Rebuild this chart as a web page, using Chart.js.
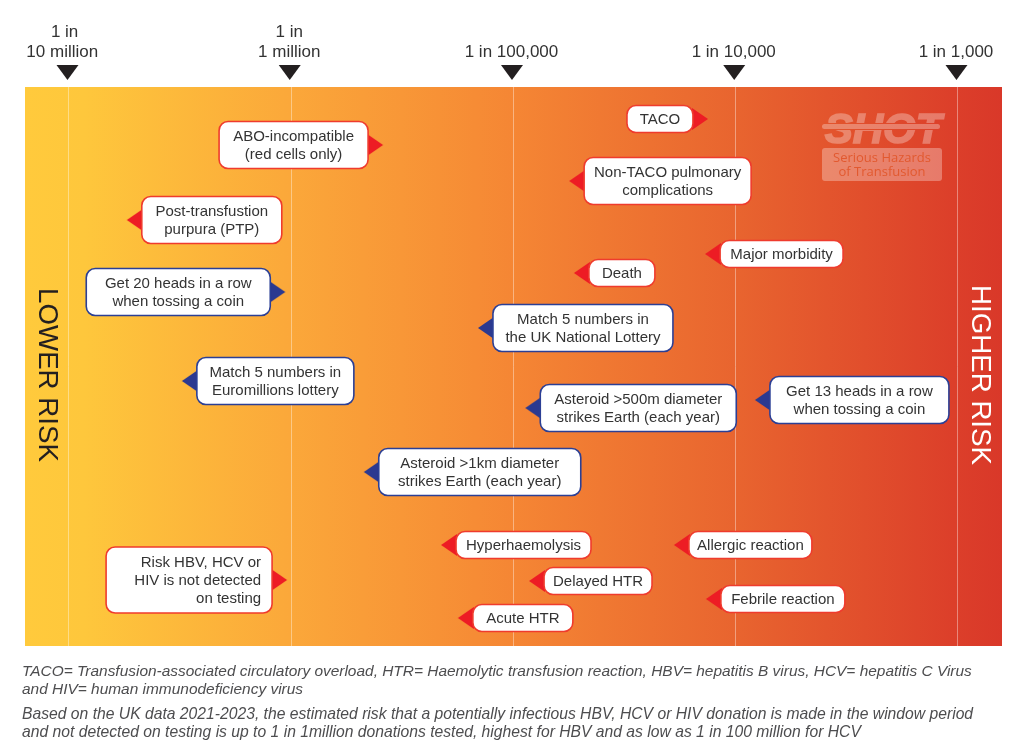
<!DOCTYPE html>
<html>
<head>
<meta charset="utf-8">
<title>Risk of transfusion reactions</title>
<script src="https://cdn.jsdelivr.net/npm/chart.js@4/dist/chart.umd.js"></script>
<style>
    html, body { margin: 0; padding: 0; background: #fff; }
    #wrap { position: relative; width: 1024px; height: 756px; overflow: hidden; }
    .note { position: absolute; left: 22px; white-space: nowrap; font: italic 15.45px "Liberation Sans", sans-serif; color: #4d4d4f; }
    .note.wide { font-size: 15.7px; }
</style>
</head>
<body>
<div id="wrap">
    <canvas id="riskChart" width="1024" height="756"></canvas>
    <div class="note" style="top:662px">TACO= Transfusion-associated circulatory overload, HTR= Haemolytic transfusion reaction, HBV= hepatitis B virus, HCV= hepatitis C Virus</div>
    <div class="note" style="top:680px">and HIV= human immunodeficiency virus</div>
    <div class="note wide" style="top:705px">Based on the UK data 2021-2023, the estimated risk that a potentially infectious HBV, HCV or HIV donation is made in the window period</div>
    <div class="note wide" style="top:723px">and not detected on testing is up to 1 in 1million donations tested, highest for HBV and as low as 1 in 100 million for HCV</div>
</div>
<script>
// --- DATA ---
const tickValues = [1e-7, 1e-6, 1e-5, 1e-4, 1e-3];
// trailing spaces nudge the first label left of its tick, as in the original
const tickLabels = [['1 in ', '10 million  '], ['1 in', '1 million'], '1 in 100,000', '1 in 10,000', '1 in 1,000'];

const eventLabels = [
    ['TACO'],
    ['ABO-incompatible', '(red cells only)'],
    ['Non-TACO pulmonary', 'complications'],
    ['Post-transfustion', 'purpura (PTP)'],
    ['Major morbidity'],
    ['Death'],
    ['Get 20 heads in a row', 'when tossing a coin'],
    ['Match 5 numbers in', 'the UK National Lottery'],
    ['Match 5 numbers in', 'Euromillions lottery'],
    ['Get 13 heads in a row', 'when tossing a coin'],
    ['Asteroid >500m diameter', 'strikes Earth (each year)'],
    ['Asteroid >1km diameter', 'strikes Earth (each year)'],
    ['Hyperhaemolysis'],
    ['Allergic reaction'],
    ['Risk HBV, HCV or', 'HIV is not detected', 'on testing'],
    ['Delayed HTR'],
    ['Febrile reaction'],
    ['Acute HTR']
];
// risk per event
const eventRisk = [7.5e-5, 2.59e-6, 1.78e-5, 1.82e-7, 7.28e-5, 1.87e-5, 9.4e-7, 6.92e-6, 3.22e-7,
    1.22e-4, 1.13e-5, 2.12e-6, 4.72e-6, 5.27e-5, 9.58e-7, 1.175e-5, 7.34e-5, 5.62e-6];
// vertical placement only, the picture has no y axis
const eventRow = [32, 58, 94, 133, 167, 186, 205, 241, 294, 313, 321, 385, 458, 458, 493, 494, 512, 531];
const eventGroup = ['blood', 'blood', 'blood', 'blood', 'blood', 'blood', 'chance', 'chance', 'chance',
    'chance', 'chance', 'chance', 'blood', 'blood', 'blood', 'blood', 'blood', 'blood'];

// --- BOX STYLING ---
const boxWidths = [66, 149, 167, 140, 123, 66, 184, 180, 157, 179, 196, 202, 135, 123, 166, 108, 124, 100];
const boxOnLeft = [true, true, false, false, false, false, true, false, false, false, false, false, false, false, true, false, false, false];
const groupFill = { blood: '#ed1c24', chance: '#2b3990' };
const groupStroke = { blood: '#ef3b2d', chance: '#2b3f95' };
const arrowLength = 15;
const lineHeight = 18;
const textFont = '15px "Liberation Sans", sans-serif';

// a marker image whose centre is the arrow tip, so the point lands on the risk value
function makeArrow(color, tipLeft) {
    const c = document.createElement('canvas');
    c.width = 32; c.height = 24;
    const g = c.getContext('2d');
    const base = tipLeft ? 16 + arrowLength + 1 : 16 - arrowLength - 1;
    g.fillStyle = color;
    g.beginPath(); g.moveTo(16, 12); g.lineTo(base, 1); g.lineTo(base, 23); g.closePath(); g.fill();
    return c;
}
const arrows = {
    blood: { left: makeArrow(groupFill.blood, true), right: makeArrow(groupFill.blood, false) },
    chance: { left: makeArrow(groupFill.chance, true), right: makeArrow(groupFill.chance, false) }
};

// logo is built on its own canvas so the stroke and fill do not double up the alpha
function drawLogo(ctx) {
    const c = document.createElement('canvas');
    c.width = 140; c.height = 90;
    const g = c.getContext('2d');
    g.fillStyle = g.strokeStyle = '#fff';
    g.font = 'italic bold 42px "Liberation Sans", sans-serif';
    g.textAlign = 'center';
    g.lineWidth = 1.6;
    g.fillText('SHOT', 64, 36);
    g.strokeText('SHOT', 64, 36);
    g.globalCompositeOperation = 'destination-out';
    g.fillRect(0, 16, 140, 7);
    g.globalCompositeOperation = 'source-over';
    g.beginPath(); g.roundRect(3, 17, 118, 5, 2.5); g.fill();
    g.beginPath(); g.roundRect(3, 41, 120, 33, 3); g.fill();
    ctx.save();
    ctx.globalAlpha = 0.3;
    ctx.drawImage(c, 819, 107);
    ctx.restore();

    ctx.save();
    ctx.fillStyle = '#e2592f';
    ctx.font = '13px "Open Sans", sans-serif';
    ctx.textAlign = 'center';
    ctx.textBaseline = 'middle';
    ctx.fillText('Serious Hazards', 882, 158);
    ctx.fillText('of Transfusion', 882, 172);
    ctx.restore();
}

const bandPlugin = {
    id: 'band',
    beforeDraw(chart) {
        const { ctx, chartArea: a } = chart;
        const grad = ctx.createLinearGradient(a.left, 0, a.right, 0);
        grad.addColorStop(0, '#ffca3c');
        grad.addColorStop(0.06, '#fec73c');
        grad.addColorStop(0.27, '#fba83a');
        grad.addColorStop(0.5, '#f58634');
        grad.addColorStop(0.73, '#e8642f');
        grad.addColorStop(0.95, '#dc3f2a');
        grad.addColorStop(1, '#d93829');
        ctx.fillStyle = grad;
        ctx.fillRect(a.left, a.top, a.right - a.left, a.bottom - a.top);
    },
    beforeDatasetsDraw(chart) {
        const { ctx, chartArea: a, scales } = chart;
        drawLogo(ctx);

        ctx.save();
        ctx.font = '27.7px "Liberation Sans", sans-serif';
        ctx.textAlign = 'center';
        ctx.textBaseline = 'middle';
        ctx.translate(a.left + 22, 375);
        ctx.rotate(Math.PI / 2);
        ctx.fillStyle = '#231f20';
        ctx.fillText('LOWER RISK', 0, 0);
        ctx.restore();

        ctx.save();
        ctx.font = '27.7px "Liberation Sans", sans-serif';
        ctx.textAlign = 'center';
        ctx.textBaseline = 'middle';
        ctx.translate(a.right - 22, 375);
        ctx.rotate(Math.PI / 2);
        ctx.fillStyle = '#fff';
        ctx.fillText('HIGHER RISK', 0, 0);
        ctx.restore();

        // down arrows under the tick labels
        ctx.fillStyle = '#231f20';
        scales.x.ticks.forEach((t, i) => {
            const px = scales.x.getPixelForTick(i) - 1.5;
            ctx.beginPath();
            ctx.moveTo(px - 11, a.top - 22);
            ctx.lineTo(px + 11, a.top - 22);
            ctx.lineTo(px, a.top - 7);
            ctx.closePath();
            ctx.fill();
        });
    },
    afterDatasetsDraw(chart) {
        const { ctx } = chart;
        chart.getDatasetMeta(0).data.forEach((pt, i) => {
            const lines = eventLabels[i];
            const w = boxWidths[i];
            const h = lines.length === 1 ? 27 : lines.length === 2 ? 47 : 66;
            const x = boxOnLeft[i] ? pt.x - arrowLength - w : pt.x + arrowLength;
            const y = pt.y - h / 2;

            ctx.fillStyle = '#fff';
            ctx.strokeStyle = groupStroke[eventGroup[i]];
            ctx.lineWidth = 1.6;
            ctx.beginPath();
            ctx.roundRect(x, y, w, h, 9);
            ctx.fill();
            ctx.stroke();

            ctx.fillStyle = '#333';
            ctx.font = textFont;
            ctx.textBaseline = 'middle';
            const rightAligned = lines.length === 3;
            ctx.textAlign = rightAligned ? 'right' : 'center';
            const tx = rightAligned ? x + w - 11 : x + w / 2;
            lines.forEach((line, n) => {
                ctx.fillText(line, tx, pt.y + 1 + (n - (lines.length - 1) / 2) * lineHeight);
            });
        });
    }
};

new Chart(document.getElementById('riskChart'), {
    type: 'scatter',
    data: {
        datasets: [{
            data: eventRisk.map((r, i) => ({ x: r, y: eventRow[i] })),
            pointStyle: ctx => arrows[eventGroup[ctx.dataIndex]][boxOnLeft[ctx.dataIndex] ? 'right' : 'left'],
            pointRadius: 12,
            clip: false
        }]
    },
    plugins: [bandPlugin],
    options: {
        responsive: false,
        animation: false,
        layout: { padding: { left: 25, right: 22, top: 0, bottom: 110 } },
        plugins: { legend: { display: false }, tooltip: { enabled: false } },
        scales: {
            x: {
                type: 'logarithmic',
                position: 'top',
                bounds: 'data',
                min: 6.34e-8,
                max: 1.578e-3,
                afterBuildTicks: scale => { scale.ticks = tickValues.map(value => ({ value })); },
                afterFit: scale => { scale.height = 87; },
                grid: { color: 'rgba(255,255,255,0.38)', lineWidth: 1, drawTicks: false },
                border: { display: false },
                ticks: {
                    callback: (v, i) => tickLabels[i],
                    autoSkip: false,
                    maxRotation: 0,
                    minRotation: 0,
                    padding: 24,
                    labelOffset: -2,
                    color: '#333',
                    font: { family: '"Liberation Sans", sans-serif', size: 17, lineHeight: 1.22 }
                }
            },
            y: { type: 'linear', min: 0, max: 559, reverse: true, display: false }
        }
    }
});
</script>
</body>
</html>
